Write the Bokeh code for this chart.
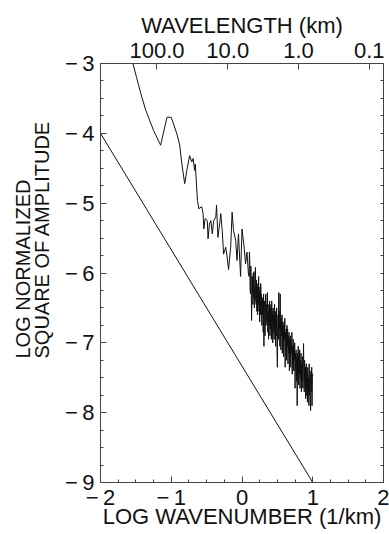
import math
from bokeh.plotting import figure
from bokeh.models import LinearAxis, FixedTicker, Range1d, CustomJSTickFormatter, Title
from bokeh.embed import file_html
from bokeh.resources import INLINE

# ---- data ----
# spectrum: log wavenumber (1/km) vs log normalized square of amplitude
spec_x = [-1.56, -1.49, -1.43, -1.36, -1.25, -1.15, -1.06, -1.00, -0.92, -0.88,
          -0.85, -0.81, -0.78, -0.74, -0.71, -0.69, -0.67, -0.66, -0.63, -0.61,
          -0.57, -0.55, -0.54, -0.52, -0.49, -0.48, -0.46, -0.44, -0.42, -0.40,
          -0.37, -0.36, -0.34, -0.31, -0.30, -0.28, -0.26, -0.23, -0.21, -0.19,
          -0.16, -0.14, -0.12, -0.09, -0.07, -0.05, -0.02, 0.00, 0.03, 0.05,
          0.07, 0.09,
          0.100, 0.105, 0.110, 0.115, 0.120, 0.125, 0.130, 0.135, 0.140, 0.145,
          0.150, 0.155, 0.160, 0.165, 0.170, 0.175, 0.180, 0.185, 0.190, 0.195,
          0.200, 0.205, 0.210, 0.215, 0.220, 0.225, 0.230, 0.235, 0.240, 0.245,
          0.250, 0.255, 0.260, 0.265, 0.270, 0.275, 0.280, 0.285, 0.290, 0.295,
          0.300, 0.305, 0.310, 0.315, 0.320, 0.325, 0.330, 0.335, 0.340, 0.345,
          0.350, 0.355, 0.360, 0.365, 0.370, 0.375, 0.380, 0.385, 0.390, 0.395,
          0.400, 0.405, 0.410, 0.415, 0.420, 0.425, 0.430, 0.435, 0.440, 0.445,
          0.450, 0.455, 0.460, 0.465, 0.470, 0.475, 0.480, 0.485, 0.490, 0.495,
          0.500, 0.505, 0.510, 0.515, 0.520, 0.525, 0.530, 0.535, 0.540, 0.545,
          0.550, 0.555, 0.560, 0.565, 0.570, 0.575, 0.580, 0.585, 0.590, 0.595,
          0.600, 0.605, 0.610, 0.615, 0.620, 0.625, 0.630, 0.635, 0.640, 0.645,
          0.650, 0.655, 0.660, 0.665, 0.670, 0.675, 0.680, 0.685, 0.690, 0.695,
          0.700, 0.705, 0.710, 0.715, 0.720, 0.725, 0.730, 0.735, 0.740, 0.745,
          0.750, 0.755, 0.760, 0.765, 0.770, 0.775, 0.780, 0.785, 0.790, 0.795,
          0.800, 0.805, 0.810, 0.815, 0.820, 0.825, 0.830, 0.835, 0.840, 0.845,
          0.850, 0.855, 0.860, 0.865, 0.870, 0.875, 0.880, 0.885, 0.890, 0.895,
          0.900, 0.905, 0.910, 0.915, 0.920, 0.925, 0.930, 0.935, 0.940, 0.945,
          0.950, 0.955, 0.960, 0.965, 0.970, 0.975, 0.980, 0.985, 0.990, 0.995,
          1.000]
spec_y = [-2.93, -3.20, -3.43, -3.67, -3.96, -4.17, -3.77, -3.77, -4.01, -4.17,
          -4.44, -4.72, -4.53, -4.32, -4.41, -4.36, -4.53, -4.44, -4.96, -5.08,
          -5.05, -5.15, -5.37, -5.22, -5.25, -5.51, -5.30, -5.25, -5.44, -5.25,
          -5.20, -5.03, -5.49, -5.25, -5.15, -5.39, -5.73, -5.63, -5.77, -5.95,
          -5.63, -5.13, -5.39, -5.53, -5.82, -5.44, -6.05, -5.37, -5.63, -5.87,
          -5.70, -6.00,
          -6.05, -5.70, -5.85, -6.25, -6.30, -5.90, -6.10, -6.68, -6.40, -6.05,
          -6.20, -6.45, -6.00, -6.35, -5.98, -6.50, -6.20, -6.40, -5.92, -6.30,
          -6.45, -6.10, -6.55, -6.20, -6.60, -6.15, -6.45, -6.05, -6.55, -6.25,
          -6.70, -6.20, -6.60, -6.15, -6.45, -6.30, -6.75, -6.35, -6.60, -6.40,
          -6.85, -6.30, -7.05, -6.45, -6.40, -6.90, -6.55, -6.30, -6.75, -6.45,
          -6.70, -6.35, -6.28, -6.85, -6.55, -6.95, -6.45, -6.75, -6.40, -6.90,
          -6.50, -6.80, -6.45, -6.95, -6.40, -6.70, -6.55, -7.00, -6.50, -6.85,
          -6.60, -6.95, -6.45, -6.80, -6.55, -7.05, -6.60, -6.90, -6.50, -7.10,
          -7.35, -6.75, -6.60, -6.95, -6.28, -6.80, -6.55, -7.05, -6.30, -6.85,
          -7.10, -6.65, -6.90, -6.60, -7.15, -6.70, -7.00, -6.75, -7.20, -6.70,
          -6.95, -6.65, -7.35, -6.85, -7.10, -6.80, -7.25, -6.75, -7.05, -6.80,
          -7.30, -6.90, -7.15, -6.85, -7.40, -6.95, -7.20, -6.90, -7.35, -7.00,
          -7.15, -6.85, -7.45, -7.05, -7.30, -6.95, -7.40, -7.05, -7.25, -7.00,
          -7.65, -7.15, -7.40, -7.10, -7.55, -7.20, -7.90, -7.15, -7.45, -7.05,
          -7.60, -7.20, -7.45, -7.10, -7.65, -7.25, -7.50, -7.15, -7.70, -7.30,
          -7.55, -7.20, -7.65, -7.30, -7.01, -7.50, -7.70, -7.25, -7.55, -7.35,
          -7.80, -7.40, -7.30, -7.75, -7.45, -7.85, -7.35, -7.70, -7.50, -7.90,
          -7.30, -7.75, -7.45, -7.85, -7.97, -7.40, -7.70, -7.35, -7.90, -7.50,
          -7.44]
# reference straight line (slope -5/3)
ref_x = [-2.0, 1.0]
ref_y = [-4.0, -9.0]

y_ticks = [-9, -8, -7, -6, -5, -4, -3]
x_ticks = [-2, -1, 0, 1, 2]
wavelengths_km = [100.0, 10.0, 1.0, 0.1]

FONT = "Liberation Sans"
FS = "22px"
INK = "#111111"
AXC = "#444444"

p = figure(width=389, height=534, x_range=Range1d(-2, 2), y_range=Range1d(-9, -3),
           output_backend="svg", toolbar_location=None,
           x_axis_location=None, y_axis_location=None,
           min_border_left=100, min_border_right=6, min_border_top=63, min_border_bottom=52)
p.grid.visible = False
p.outline_line_color = None
p.background_fill_color = "white"
p.border_fill_color = "white"

quarter_y = [v / 4 for v in range(-36, -11)]
quarter_x = [v / 4 for v in range(-8, 9)]

minus_fmt = CustomJSTickFormatter(code="""
    if (tick < 0) { return "\\u2212\\u2009" + Math.abs(tick).toString(); }
    return tick.toString();
""")

def style(ax):
    ax.axis_line_color = AXC
    ax.axis_line_width = 1
    ax.major_tick_line_color = AXC
    ax.minor_tick_line_color = AXC
    ax.major_tick_in = 6
    ax.major_tick_out = 0
    ax.minor_tick_in = 3
    ax.minor_tick_out = 0
    ax.major_label_text_font = FONT
    ax.major_label_text_font_size = FS
    ax.major_label_text_color = INK
    ax.axis_label_text_font = FONT
    ax.axis_label_text_font_size = FS
    ax.axis_label_text_font_style = "normal"
    ax.axis_label_text_color = INK

left = LinearAxis(ticker=FixedTicker(ticks=y_ticks, minor_ticks=quarter_y), formatter=minus_fmt)
style(left)
left.major_label_standoff = 6
p.add_layout(left, "left")

ytitle = Title(text="LOG NORMALIZED\nSQUARE OF AMPLITUDE", align="left", offset=124,
               vertical_align="top", standoff=14,
               text_font=FONT, text_font_size="20px", text_font_style="normal",
               text_color=INK, text_line_height=0.9)
p.add_layout(ytitle, "left")

right = LinearAxis(ticker=FixedTicker(ticks=[], minor_ticks=quarter_y))
style(right)
p.add_layout(right, "right")

bottom = LinearAxis(ticker=FixedTicker(ticks=x_ticks, minor_ticks=quarter_x), formatter=minus_fmt,
                    axis_label="LOG WAVENUMBER (1/km)")
style(bottom)
bottom.major_label_standoff = 2
bottom.axis_label_standoff = -9
p.add_layout(bottom, "below")

top_ticks = [math.log10(2 * math.pi / w) for w in wavelengths_km]
top = LinearAxis(ticker=FixedTicker(ticks=top_ticks, minor_ticks=[]),
                 formatter=CustomJSTickFormatter(code="""
    const lam = 2 * Math.PI / Math.pow(10, tick);
    return lam.toFixed(1);
"""), axis_label="WAVELENGTH (km)")
style(top)
top.major_label_standoff = 6
top.axis_label_standoff = 2
p.add_layout(top, "above")

p.line(ref_x, ref_y, line_color=INK, line_width=1)
p.line(spec_x, spec_y, line_color=INK, line_width=1)

open("out.html", "w").write(file_html(p, INLINE))
